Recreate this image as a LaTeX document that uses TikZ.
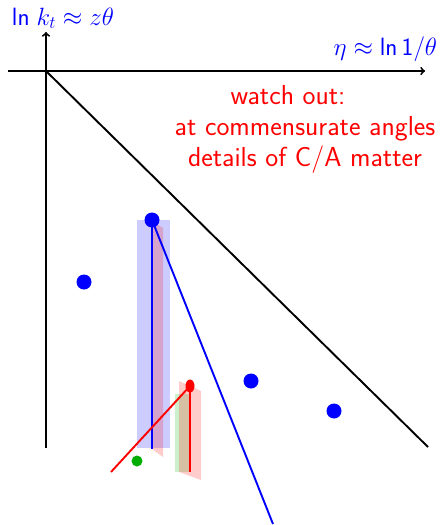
\documentclass[tikz,border=0pt]{standalone}
\usepackage{fix-cm}
\usepackage{fontspec}
\usepackage{xcolor}
\usetikzlibrary{shapes.geometric}
\definecolor{dotgreen}{rgb}{0.0,0.68,0.0}
\tikzset{
  bigdot/.style={circle, fill=blue, inner sep=0pt, minimum size=15pt},
  band/.style={fill opacity=0.2},
  axlabel/.style={blue, inner sep=0pt, font=\sffamily\fontsize{25}{30}\selectfont},
}
\begin{document}
\begin{tikzpicture}[x=1pt, y=-1pt, line width=1.9pt, font=\sffamily\fontsize{27.5}{31}\selectfont]
\useasboundingbox (0,0) rectangle (441,525);
% shaded bands
\fill[blue, band] (137,220) rectangle (170,448);
\fill[red, band] (152,221) -- (163,228) -- (163,457) -- (152,449) -- cycle;
\fill[dotgreen, band] (175,394) rectangle (189,472);
\fill[red, band] (179,381) -- (201,391) -- (201,480) -- (179,472) -- cycle;
% axes
\coordinate (o) at (46,71);
\coordinate (ybot) at (46,448);
\coordinate (ytop) at (46,32);
\coordinate (xleft) at (8,71);
\coordinate (xright) at (425,71);
\coordinate (diagend) at (428,447);
\draw[->] (ybot) -- (ytop);
\draw[->] (xleft) -- (xright);
\draw (o) -- (diagend);
\node[axlabel, anchor=base west] (ylab) at (11,25) {$\mathsf{ln}\;k_t\approx z\theta$};
\node[axlabel, anchor=base east] (xlab) at (438,55) {$\eta\approx\mathsf{ln}\,\mathsf{1}/\theta$};
\node[red, anchor=base] (watch) at (288,104) {watch out:};
\node[red, align=center] (note) at (305,145) {at commensurate angles\\details of C/A matter};
% points
\node[bigdot] (p1) at (152,220) {};
\node[bigdot] (p2) at (84,282) {};
\node[bigdot] (p3) at (251,381) {};
\node[bigdot] (p4) at (334,411) {};
\node[ellipse, fill=red, inner sep=0pt, minimum width=9pt, minimum height=13pt] (r1) at (190,386) {};
\node[circle, fill=dotgreen, inner sep=0pt, minimum size=11pt] (g1) at (137,461) {};
\coordinate (b1) at (152,449);
\coordinate (b2) at (273,524);
\coordinate (r2) at (190,472);
\coordinate (r3) at (111,472);
\draw[blue] (p1.center) -- (b1);
\draw[blue] (p1.center) -- (b2);
\draw[red] (r1.center) -- (r2);
\draw[red] (r1.center) -- (r3);
\end{tikzpicture}
\end{document}
